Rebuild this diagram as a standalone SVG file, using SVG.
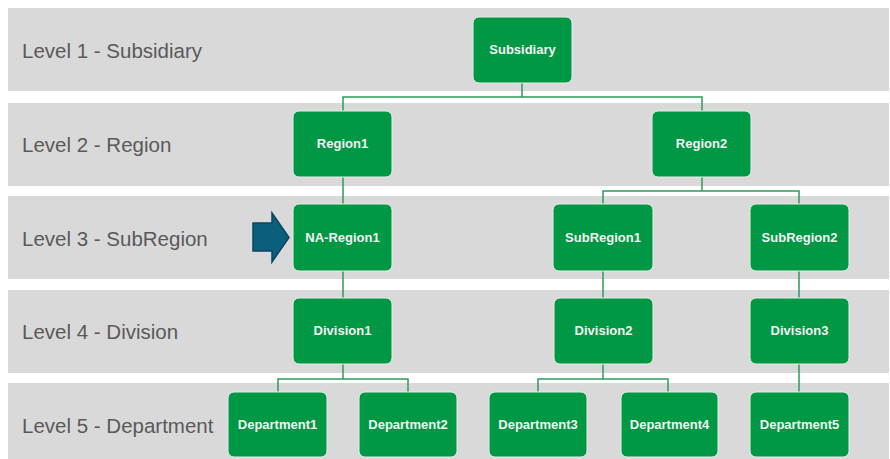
<svg xmlns="http://www.w3.org/2000/svg" width="890" height="459" viewBox="0 0 890 459">
  <style>
    .band { fill: #d9d9d9; }
    .level { font-family: "Liberation Sans", Arial, sans-serif; font-size: 20.5px; fill: #595959; }
    .box { fill: #009844; stroke: #e6efe8; stroke-width: 1; }
    .name { font-family: "Liberation Sans", Arial, sans-serif; font-size: 13px; font-weight: bold; fill: #f2f2f2; text-anchor: middle; }
    .link { fill: none; stroke: #2e9a58; stroke-width: 1.5; }
  </style>

  <!-- level bands -->
  <g id="bands">
    <rect class="band" x="8" y="8" width="881" height="83"/>
    <rect class="band" x="8" y="103" width="881" height="83"/>
    <rect class="band" x="8" y="196" width="881" height="83"/>
    <rect class="band" x="8" y="290" width="881" height="83"/>
    <rect class="band" x="8" y="383" width="881" height="76"/>
    <text class="level" x="22" y="58">Level 1 - Subsidiary</text>
    <text class="level" x="22" y="152">Level 2 - Region</text>
    <text class="level" x="22" y="246">Level 3 - SubRegion</text>
    <text class="level" x="22" y="339">Level 4 - Division</text>
    <text class="level" x="22" y="433">Level 5 - Department</text>
  </g>

  <!-- connectors -->
  <g id="connectors">
    <path class="link" d="M522 83 V97 M343 111 V97 H702 V111"/>
    <path class="link" d="M343 177 V204"/>
    <path class="link" d="M702 177 V191 M603 204 V191 H799 V204"/>
    <path class="link" d="M343 271 V298"/>
    <path class="link" d="M603 271 V298"/>
    <path class="link" d="M799 271 V298"/>
    <path class="link" d="M343 364 V379 M278 392 V379 H408 V392"/>
    <path class="link" d="M603 364 V379 M538 392 V379 H668 V392"/>
    <path class="link" d="M799 364 V392"/>
  </g>

  <!-- marker arrow pointing at NA-Region1 -->
  <g id="pointer">
    <path d="M253 223 H272 V213 L289 237.5 L272 262 V251 H253 Z" fill="#0b5e7c" stroke="#0a4760" stroke-width="1.5" stroke-linejoin="miter"/>
  </g>

  <g id="subsidiary">
    <rect class="box" x="473" y="17" width="99" height="66" rx="6"/>
    <text class="name" x="522.5" y="54">Subsidiary</text>
  </g>

  <g id="region1">
    <rect class="box" x="293" y="111" width="99" height="66" rx="6"/>
    <text class="name" x="342.5" y="148">Region1</text>
  </g>
  <g id="region2">
    <rect class="box" x="652" y="111" width="99" height="66" rx="6"/>
    <text class="name" x="701.5" y="148">Region2</text>
  </g>

  <g id="na-region1">
    <rect class="box" x="293" y="204" width="99" height="67" rx="6"/>
    <text class="name" x="342.5" y="242">NA-Region1</text>
  </g>
  <g id="subregion1">
    <rect class="box" x="553" y="204" width="100" height="67" rx="6"/>
    <text class="name" x="603" y="242">SubRegion1</text>
  </g>
  <g id="subregion2">
    <rect class="box" x="750" y="204" width="99" height="67" rx="6"/>
    <text class="name" x="799.5" y="242">SubRegion2</text>
  </g>

  <g id="division1">
    <rect class="box" x="293" y="298" width="99" height="66" rx="6"/>
    <text class="name" x="342.5" y="335">Division1</text>
  </g>
  <g id="division2">
    <rect class="box" x="554" y="298" width="99" height="66" rx="6"/>
    <text class="name" x="603.5" y="335">Division2</text>
  </g>
  <g id="division3">
    <rect class="box" x="750" y="298" width="99" height="66" rx="6"/>
    <text class="name" x="799.5" y="335">Division3</text>
  </g>

  <g id="department1">
    <rect class="box" x="228" y="392" width="99" height="65" rx="6"/>
    <text class="name" x="277.5" y="429">Department1</text>
  </g>
  <g id="department2">
    <rect class="box" x="359" y="392" width="98" height="65" rx="6"/>
    <text class="name" x="408" y="429">Department2</text>
  </g>
  <g id="department3">
    <rect class="box" x="489" y="392" width="98" height="65" rx="6"/>
    <text class="name" x="538" y="429">Department3</text>
  </g>
  <g id="department4">
    <rect class="box" x="621" y="392" width="97" height="65" rx="6"/>
    <text class="name" x="669.5" y="429">Department4</text>
  </g>
  <g id="department5">
    <rect class="box" x="750" y="392" width="99" height="65" rx="6"/>
    <text class="name" x="799.5" y="429">Department5</text>
  </g>
</svg>
